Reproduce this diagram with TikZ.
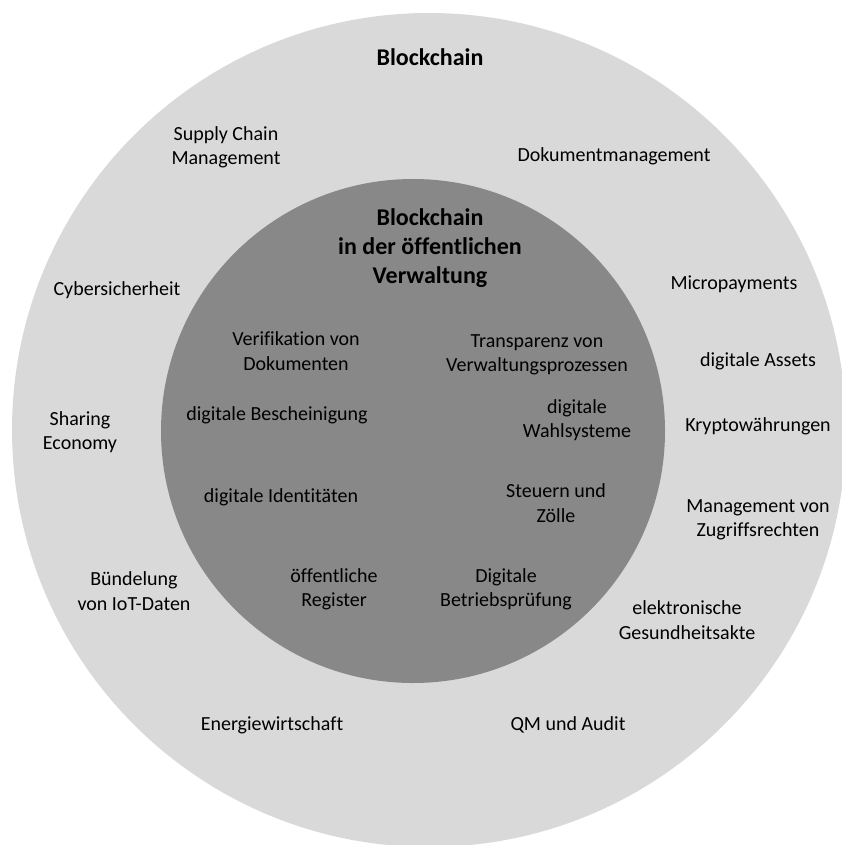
\documentclass[tikz,border=0pt]{standalone}
\usepackage{fontspec}
\setmainfont[Ligatures=NoCommon]{Carlito}
\begin{document}
\begin{tikzpicture}[x=1pt,y=-1pt,
  lbl/.style={align=center,font=\fontsize{20}{24.4}\selectfont,inner sep=0pt},
  ttl/.style={align=center,font=\fontsize{24}{29.2}\selectfont\bfseries,inner sep=0pt}]
  \useasboundingbox (0,0) rectangle (842,845);
  \begin{scope}
    \clip (0,0) rectangle (842,845);
    \fill[fill={rgb,255:red,217;green,217;blue,217}] (429,430) circle (417);
  \end{scope}
  \fill[fill={rgb,255:red,136;green,136;blue,136}] (413,431) circle (252);

  % outer ring: general blockchain applications
  \node[ttl] (bc) at (430,57) {Blockchain};
  \node[lbl] (scm) at (226,147) {Supply Chain\\Management};
  \node[lbl] (dok) at (614,156) {Dokumentmanagement};
  \node[lbl] (cyb) at (117,290) {Cybersicherheit};
  \node[lbl] (mic) at (734,284) {Micropayments};
  \node[lbl] (ass) at (758,361) {digitale Assets};
  \node[lbl] (sha) at (80,432) {Sharing\\Economy};
  \node[lbl] (kry) at (758,426) {Kryptowährungen};
  \node[lbl] (zug) at (758,520) {Management von\\Zugriffsrechten};
  \node[lbl] (iot) at (134,591) {Bündelung\\von IoT-Daten};
  \node[lbl] (ges) at (687,620) {elektronische\\Gesundheitsakte};
  \node[lbl] (ene) at (272,725) {Energiewirtschaft};
  \node[lbl] (qm) at (568,725) {QM und Audit};

  % inner disc: public administration
  \node[ttl] (bov) at (430,248) {Blockchain\\in der öffentlichen\\Verwaltung};
  \node[lbl] (ver) at (296,351) {Verifikation von\\Dokumenten};
  \node[lbl] (tra) at (537,355) {Transparenz von\\Verwaltungsprozessen};
  \node[lbl] (bes) at (277,415) {digitale Bescheinigung};
  \node[lbl] (wah) at (577,420) {digitale\\Wahlsysteme};
  \node[lbl] (ide) at (281,497) {digitale Identitäten};
  \node[lbl] (ste) at (556,503) {Steuern und\\Zölle};
  \node[lbl] (reg) at (334,589) {öffentliche\\Register};
  \node[lbl] (bp) at (506,589) {Digitale\\Betriebsprüfung};
\end{tikzpicture}
\end{document}
